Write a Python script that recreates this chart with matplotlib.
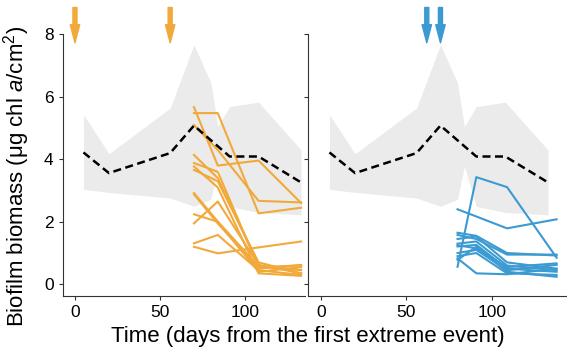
import matplotlib
matplotlib.use('Agg')
import matplotlib.pyplot as plt

plt.rcParams['font.family'] = ['Liberation Sans', 'DejaVu Sans']
plt.rcParams['mathtext.fontset'] = 'custom'
plt.rcParams['mathtext.rm'] = 'Liberation Sans'
plt.rcParams['mathtext.it'] = 'Liberation Sans:italic'

# reference band (range) and mean, same in both panels
band_days = [5, 20, 56, 70, 80, 84, 91, 108, 133]
band_upper = [5.43, 4.18, 5.64, 7.67, 6.44, 5.05, 5.69, 5.83, 4.30]
band_lower = [3.04, 2.94, 2.76, 2.50, 2.72, 3.77, 2.49, 2.30, 2.22]
mean_days = [5, 20, 56, 70, 91, 108, 133]
mean_vals = [4.22, 3.56, 4.20, 5.08, 4.09, 4.09, 3.26]

# orange treatment (left)
orange_days = [70, 84, 108, 133]
orange_lines = [
    [5.67, 3.80, 3.96, 2.60],
    [5.48, 5.48, 2.27, 2.45],
    [5.10, 4.30, 2.67, 2.62],
    [4.14, 3.40, 0.60, 0.45],
    [3.88, 3.60, 0.55, 0.60],
    [3.66, 3.30, 0.70, 0.35],
    [2.92, 2.01, 0.57, 0.46],
    [2.88, 1.95, 0.50, 0.62],
    [2.24, 2.00, 0.40, 0.55],
    [1.95, 2.65, 0.62, 0.35],
    [1.31, 1.58, 0.45, 0.30],
    [1.20, 0.99, 1.18, 1.37],
    [3.77, 3.10, 0.35, 0.27],
]
orange_events = [0, 56]

# blue treatment (right)
blue_days = [80, 91, 109, 138]
blue_lines = [
    [0.56, 3.43, 3.11, 0.85],
    [2.40, 2.17, 1.79, 2.08],
    [1.65, 1.55, 1.00, 0.92],
    [1.58, 1.45, 0.95, 0.95],
    [1.45, 1.53, 0.70, 0.50],
    [1.30, 1.37, 0.60, 0.45],
    [1.21, 1.26, 0.50, 0.40],
    [1.00, 1.10, 0.45, 0.62],
    [0.90, 1.00, 0.35, 0.30],
    [0.83, 0.35, 0.32, 0.50],
    [0.78, 1.20, 0.40, 0.24],
    [1.25, 1.15, 0.55, 0.67],
]
blue_events = [62, 70]

orange = '#F2A93B'
blue = '#3B9AD2'

fig = plt.figure(figsize=(5.67, 3.53), dpi=100)
ax1 = fig.add_axes([0.1106, 0.1615, 0.4273, 0.8385])
ax2 = fig.add_axes([0.5437, 0.1615, 0.4563, 0.8385])

panels = [
    (ax1, orange_days, orange_lines, orange_events, orange, (-7.2, 135.3)),
    (ax2, blue_days, blue_lines, blue_events, blue, (-7.4, 144.1)),
]

for ax, days, lines, events, color, xlim in panels:
    ax.fill_between(band_days, band_lower, band_upper, color='#EBEBEB', lw=0, zorder=1)
    ax.plot(mean_days, mean_vals, color='black', lw=1.8, dashes=(3.2, 1.8), zorder=3)
    for vals in lines:
        ax.plot(days, vals, color=color, lw=1.5, zorder=2)
    for d in events:
        ax.annotate('', xy=(d, 7.73), xytext=(d, 8.86), annotation_clip=False,
                    arrowprops=dict(width=2.9, headwidth=6.8, headlength=13,
                                    color=color, shrink=0))
    ax.set_xlim(*xlim)
    ax.set_ylim(-0.375, 9.1)
    ax.set_xticks([0, 50, 100])
    ax.set_yticks([0, 2, 4, 6, 8])
    ax.spines['top'].set_visible(False)
    ax.spines['right'].set_visible(False)
    ax.spines['left'].set_bounds(-0.375, 8)
    for s in ['left', 'bottom']:
        ax.spines[s].set_linewidth(0.8)
        ax.spines[s].set_color('#333333')
    ax.tick_params(direction='out', length=3, width=0.8, labelsize=12.5, color='#333333')

ax2.set_yticklabels([])
ax1.set_ylabel('Biofilm biomass (μg chl $\\it{a}$/cm$^2$)', fontsize=16)
ax1.yaxis.set_label_coords(-0.128, 0.405)
fig.text(0.543, 0.047, 'Time (days from the first extreme event)', ha='center', va='center', fontsize=16)

fig.savefig('out.png', dpi=100)
